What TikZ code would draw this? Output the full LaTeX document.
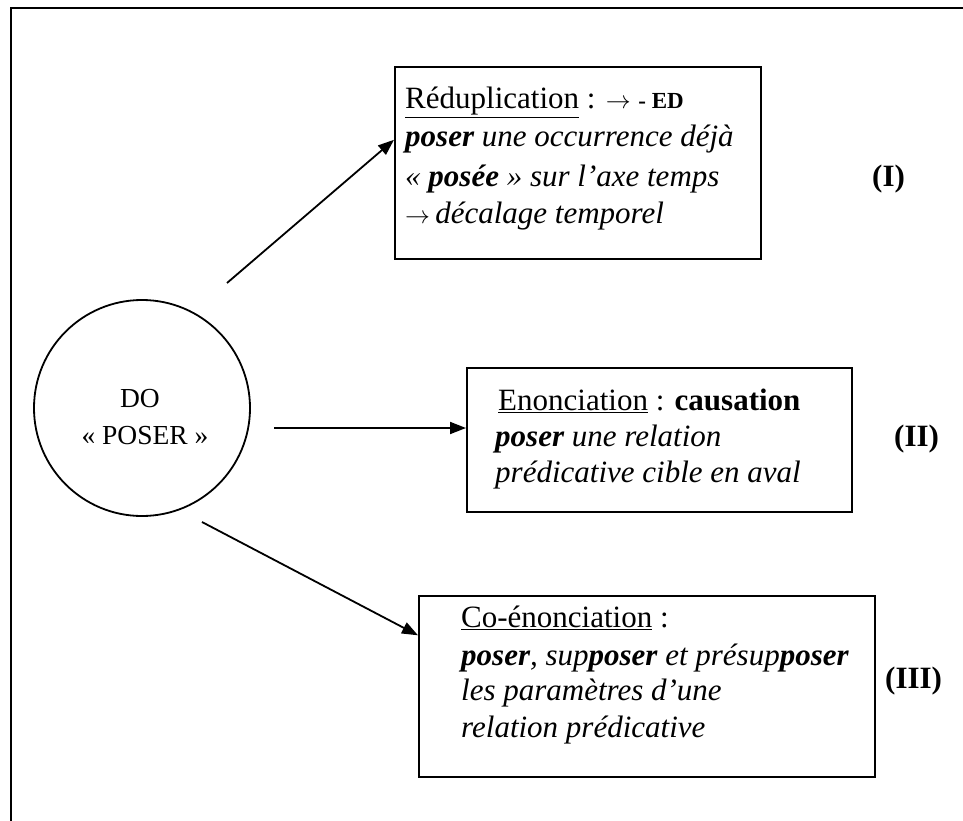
\documentclass[tikz,border=0pt]{standalone}
\usepackage{fontspec}
\setmainfont{Liberation Serif}
\usetikzlibrary{arrows.meta,calc}
\begin{document}
\begin{tikzpicture}[x=1pt,y=-1pt,
  arr/.style={line width=1.8pt,-{Triangle[length=16pt,width=12pt]}},
  box/.style={draw,line width=2.2pt,rectangle,inner sep=0pt,anchor=north west},
  txt/.style={anchor=base west,inner sep=0pt,font=\fontsize{31}{37}\selectfont},
  ctxt/.style={anchor=base,inner sep=0pt,font=\fontsize{27.5}{37}\selectfont},
  lab/.style={anchor=base west,inner sep=0pt,font=\fontsize{31}{37}\selectfont\bfseries},
]
\useasboundingbox (0,0) rectangle (963,821);
% frame
\draw[line width=2.5pt] (11,821) -- (11,8) -- (963,8);
% circle
\node[draw,circle,line width=1.8pt,minimum size=216pt,inner sep=0pt] (do) at (142,408) {};
\node[ctxt] (do1) at (140,407) {DO};
\node[ctxt] (do2) at (145,444) {« POSER »};
% box I
\node[box,minimum width=366pt,minimum height=192pt] (b1) at (394,66) {};
\node[txt] (b1l1) at (405,109) {\underline{Réduplication} : $\rightarrow$ {\fontsize{23}{37}\selectfont\bfseries - ED}};
\node[txt] (b1l2) at (405,147) {\textit{\textbf{poser} une occurrence déjà}};
\node[txt] (b1l3) at (405,186) {\textit{« \textbf{posée} » sur l’axe temps}};
\node[txt] (b1l4) at (405,223) {$\rightarrow$\,\textit{décalage temporel}};
\node[lab] (l1) at (872,186) {(I)};
% box II
\node[box,minimum width=385pt,minimum height=144pt] (b2) at (466,367) {};
\node[txt] (b2l1) at (498,410) {\underline{Enonciation} : \textbf{causation}};
\node[txt] (b2l2) at (495,446) {\textit{\textbf{poser} une relation}};
\node[txt] (b2l3) at (495,482) {\textit{prédicative cible en aval}};
\node[lab] (l2) at (894,446) {(II)};
% box III
\node[box,minimum width=456pt,minimum height=181pt] (b3) at (418,595) {};
\node[txt] (b3l1) at (461,627) {\underline{Co-énonciation} :};
\node[txt] (b3l2) at (461,665) {\textit{\textbf{poser}, sup\textbf{poser} et présup\textbf{poser}}};
\node[txt] (b3l3) at (461,700) {\textit{les paramètres d’une}};
\node[txt] (b3l4) at (461,737) {\textit{relation prédicative}};
\node[lab] (l3) at (885,688) {(III)};
% arrows
\coordinate (t1) at (227,283);
\coordinate (t2) at (274,428);
\coordinate (t3) at (202,522);
\draw[arr] (t1) -- ($(b1.north west)!0.38!(b1.south west)$);
\draw[arr] (t2) -- (t2 -| b2.west);
\draw[arr] (t3) -- ($(b3.north west)!0.22!(b3.south west)$);
\end{tikzpicture}
\end{document}
